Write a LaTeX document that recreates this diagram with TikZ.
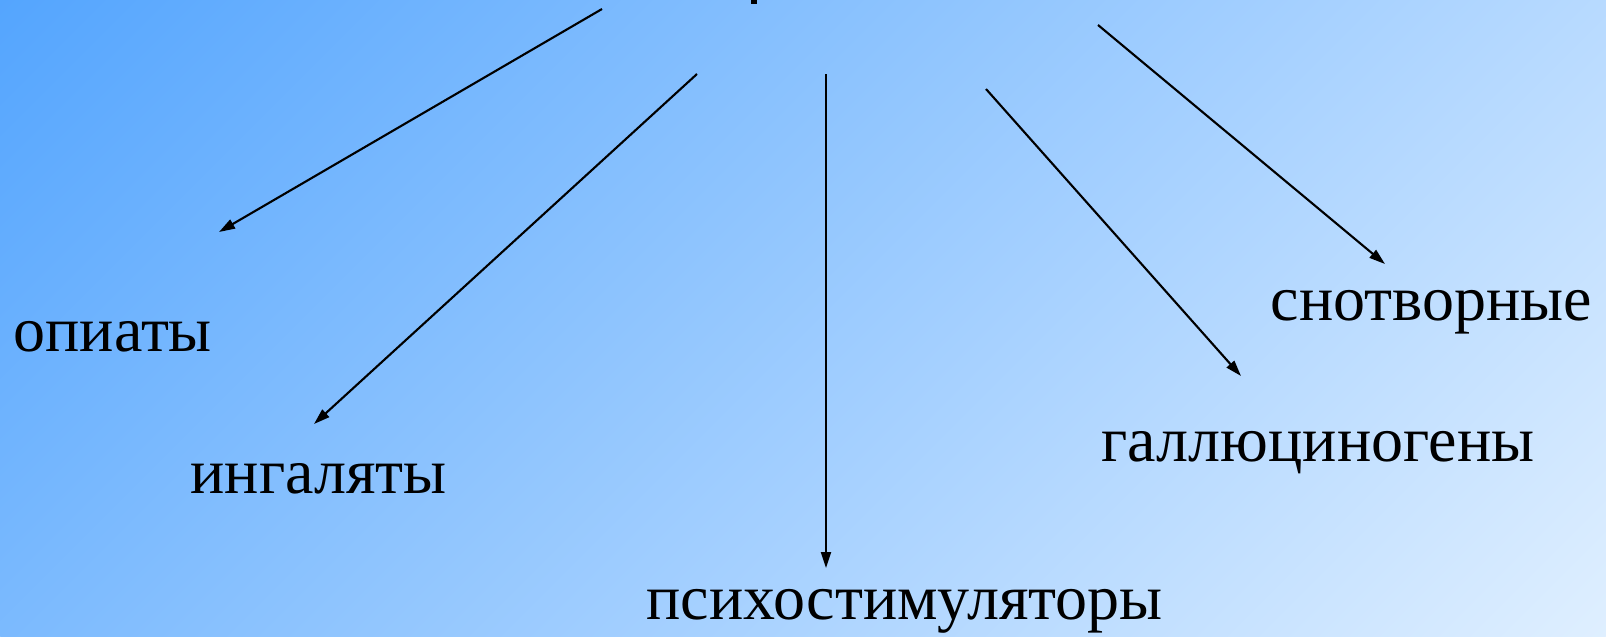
\documentclass[tikz,border=0pt]{standalone}
\usepackage{fontspec}
\setmainfont{Liberation Serif}
\newfontfamily\slidefont{Liberation Serif}
\usetikzlibrary{arrows.meta}

\definecolor{bgtop}{RGB}{84,165,254}
\definecolor{bgbot}{RGB}{223,239,255}

\begin{document}
\begin{tikzpicture}[
  x=0.01cm, y=-0.01cm,
  kind/.style={anchor=base west, inner sep=0pt, font=\slidefont\fontsize{18.2}{22}\selectfont},
  arr/.style={-{Triangle[length=1.6mm, width=1.0mm]}, line width=0.6pt}]
\useasboundingbox (0,0) rectangle (1606,636);
% background
\begin{scope}
  \clip (0,0) rectangle (1606,636);
  \shade[top color=bgtop, bottom color=bgbot,
         transform canvas={rotate around={45:(803,318)}}]
    (10,-475) rectangle (1596,1111);
\end{scope}
\fill (751,0) rectangle (757,4);
% start points under the title
\coordinate (s1) at (602,9);
\coordinate (s2) at (697,74);
\coordinate (s3) at (826,74);
\coordinate (s4) at (986,89);
\coordinate (s5) at (1098,25);
% tips
\coordinate (t1) at (219,232);
\coordinate (t2) at (314,424);
\coordinate (t3) at (826,568);
\coordinate (t4) at (1241,376);
\coordinate (t5) at (1385,264);
% classes
\node[kind] (opi) at (13,351) {опиаты};
\node[kind] (ing) at (190,493) {ингаляты};
\node[kind] (psy) at (646,619) {психостимуляторы};
\node[kind] (hal) at (1101,461) {галлюциногены};
\node[kind] (hyp) at (1270,320) {снотворные};
\draw[arr] (s1) -- (t1);
\draw[arr] (s2) -- (t2);
\draw[arr] (s3) -- (t3);
\draw[arr] (s4) -- (t4);
\draw[arr] (s5) -- (t5);
\end{tikzpicture}
\end{document}
